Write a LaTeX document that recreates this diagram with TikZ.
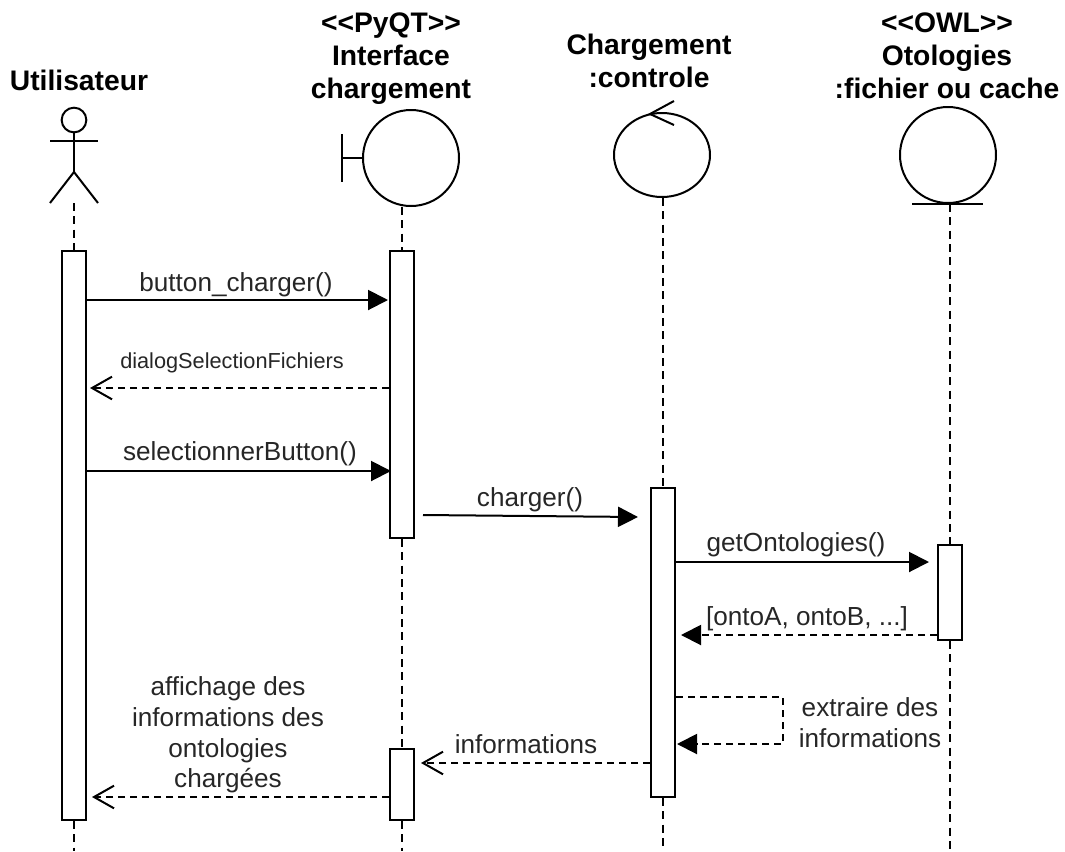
\documentclass[tikz,border=0pt]{standalone}
\usepackage{fontspec}
\setmainfont{Liberation Sans}
\usetikzlibrary{arrows.meta, calc, shapes.geometric}

\begin{document}
\begin{tikzpicture}[
  x=0.75pt, y=-0.75pt,
  line width=1.5pt,
  title/.style={align=center, inner sep=0pt, font=\fontsize{21.2}{24.75}\selectfont\bfseries},
  msg/.style={align=center, inner sep=0pt, font=\fontsize{19.6}{23}\selectfont, text=black!85},
  bar/.style={draw, fill=white, minimum width=18pt, inner sep=0pt},
  head/.style={draw, circle, inner sep=0pt, minimum size=72pt},
  life/.style={dash pattern=on 6pt off 4pt},
  call/.style={-{Triangle[length=15pt, width=15pt]}},
  retfull/.style={dash pattern=on 5pt off 4pt, -{Triangle[length=15pt, width=15pt]}},
  ret/.style={dash pattern=on 5pt off 4pt, -{Straight Barb[length=15pt, width=17pt]}}
]
\useasboundingbox (0,0) rectangle (1065,851);

\node[title] (tUser) at (79,80) {Utilisateur};
\node[title] (tIface) at (391,58.5) {<{}<PyQT>{}>\\Interface\\chargement};
\node[title] (tCtrl) at (649,61) {Chargement\\:controle};
\node[title] (tOnto) at (947,56) {<{}<OWL>{}>\\Otologies\\:fichier ou cache};

\node[draw, circle, inner sep=0pt, minimum size=18.5pt] (aHead) at (74,120) {};
\coordinate (aHip) at (74,172);
\coordinate (aFoot) at (74,203);
\draw (aHead.south) -- (aHip);
\draw ($(aHead.south)+(-24,8)$) -- ($(aHead.south)+(24,8)$);
\draw ($(aHip)+(-24,31)$) -- (aHip) -- ($(aHip)+(24,31)$);

\node[head] (iHead) at (411,158) {};
\coordinate (iTee) at (342,158);
\draw (iHead.west) -- (iTee);
\draw ($(iTee)+(0,-24)$) -- ($(iTee)+(0,24)$);

\node[draw, ellipse, inner sep=0pt, minimum width=72pt, minimum height=63pt] (cHead) at (662,155) {};
\coordinate (cTip) at (650,114);
\draw ($(cTip)+(24,-13)$) -- (cTip) -- ($(cTip)+(24,11)$);

\node[head] (oHead) at (948,155) {};
\draw ($(oHead.south)+(-36,0)$) -- ($(oHead.south)+(35,0)$);

\node[bar, minimum height=426.75pt] (barU) at (74,535.5) {};
\node[bar, minimum height=215.25pt] (barI) at (402,394.5) {};
\node[bar, minimum height=53.25pt] (barJ) at (402,784.5) {};
\node[bar, minimum height=231.75pt] (barC) at (663,642.5) {};
\node[bar, minimum height=71.25pt] (barO) at (950,592.5) {};

\coordinate (endU) at (74,851);
\coordinate (endI) at (402,851);
\coordinate (endC) at (663,851);
\coordinate (endO) at (950,851);

\draw[life] (aFoot) -- (barU.north);
\draw[life] (barU.south) -- (endU);
\draw[life] (iHead.south -| barI.north) -- (barI.north);
\draw[life] (barI.south) -- (barJ.north);
\draw[life] (barJ.south) -- (endI);
\draw[life] (cHead.south -| barC.north) -- (barC.north);
\draw[life] (barC.south) -- (endC);
\draw[life] (oHead.south -| barO.north) -- (barO.north);
\draw[life] (barO.south) -- (endO);

\coordinate (c1) at (0,300);
\coordinate (c2) at (0,388);
\coordinate (c3) at (0,471);
\coordinate (c4a) at (423,515);
\coordinate (c4b) at (638,517);
\coordinate (c5) at (0,562);
\coordinate (c6) at (0,635);
\coordinate (c7a) at (783,697);
\coordinate (c7b) at (783,744);
\coordinate (c8) at (0,763);
\coordinate (c9) at (0,797);

\draw[call] (barU.east |- c1) -- ($(barI.west |- c1)+(-1,0)$);
\draw[ret] (barI.west |- c2) -- ($(barU.east |- c2)+(3,0)$);
\draw[call] (barU.east |- c3) -- ($(barI.west |- c3)+(2,0)$);
\draw[call] (c4a) -- (c4b);
\draw[call] (barC.east |- c5) -- ($(barO.west |- c5)+(-8,0)$);
\draw[retfull] (barO.west |- c6) -- ($(barC.east |- c6)+(5,0)$);
\draw[retfull] (barC.east |- c7a) -- (c7a) -- (c7b) -- ($(barC.east |- c7b)+(1,0)$);
\draw[ret] (barC.west |- c8) -- ($(barJ.east |- c8)+(6,0)$);
\draw[ret] (barJ.west |- c9) -- ($(barU.east |- c9)+(5,0)$);

\node[msg] (lCharger) at (236,285) {button\_charger()};
\node[msg, font=\fontsize{16.3}{20}\selectfont] (lDialog) at (232,363) {dialogSelectionFichiers};
\node[msg] (lSelect) at (240,454) {selectionnerButton()};
\node[msg] (lLoad) at (530,500) {charger()};
\node[msg] (lGet) at (796,545) {getOntologies()};
\node[msg] (lList) at (807,619) {[ontoA, ontoB, ...]};
\node[msg] (lExtract) at (870,722.5) {extraire des\\informations};
\node[msg] (lInfo) at (526,744) {informations};
\node[msg] (lShow) at (228,735) {affichage des\\informations des\\ontologies\\chargées};
\end{tikzpicture}
\end{document}
